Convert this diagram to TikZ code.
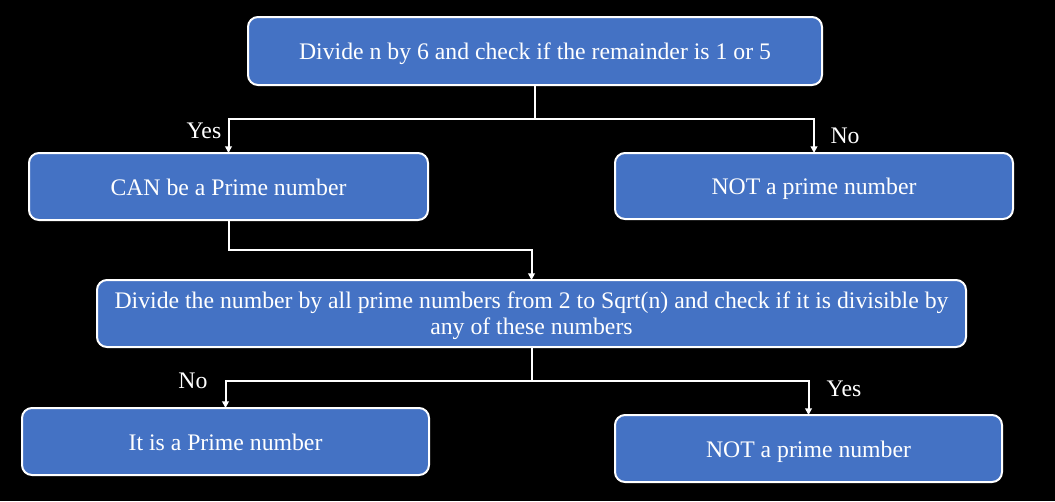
\documentclass[tikz,border=0pt]{standalone}
\usepackage{fontspec}
\setmainfont{Liberation Serif}
\usetikzlibrary{arrows.meta}
\definecolor{boxblue}{HTML}{4472C4}
\begin{document}
\begin{tikzpicture}[x=0.75pt,y=-0.75pt,
  boxbase/.style={draw=white, line width=1.5pt, fill=boxblue, rounded corners=7.5pt,
    text=white, font=\fontsize{17.8}{19.5}\selectfont, inner sep=0pt, outer sep=0pt, align=center},
  box/.style={boxbase, text height=15.5pt, text depth=2.75pt},
  conn/.style={draw=white, line width=1.5pt},
  arr/.style={conn, -{Triangle[length=5pt,width=5pt]}},
  lab/.style={text=white, font=\fontsize{17.8}{20}\selectfont, inner sep=0pt}]
\useasboundingbox[fill=black] (0,0) rectangle (1055,501);
\node[box, minimum width=574*0.75pt, minimum height=68*0.75pt] (b1) at (535,51)
  {Divide n by 6 and check if the remainder is 1 or 5};
\node[box, minimum width=399*0.75pt, minimum height=67*0.75pt] (b2) at (228.5,186.5)
  {CAN be a Prime number};
\node[box, minimum width=398*0.75pt, minimum height=66*0.75pt] (b3) at (814,186)
  {NOT a prime number};
\node[boxbase, minimum width=869*0.75pt, minimum height=67*0.75pt] (b4) at (531.5,313.5)
  {\rule{0pt}{16.5pt}Divide the number by all prime numbers from 2 to Sqrt(n) and check if it is divisible by\\any of these numbers};
\node[box, minimum width=407*0.75pt, minimum height=67*0.75pt] (b5) at (225.5,441.5)
  {It is a Prime number};
\node[box, minimum width=387*0.75pt, minimum height=67*0.75pt] (b6) at (808.5,448.5)
  {NOT a prime number};
\coordinate (j1) at (535,119);
\coordinate (j2) at (531.5,381);
\draw[conn] (b1.south) -- (j1);
\draw[arr] (j1) -| (b2.north);
\draw[arr] (j1) -| (b3.north);
\draw[arr] (b2.south) -- ++(0,30) -| (b4.north);
\draw[conn] (b4.south) -- (j2);
\draw[arr] (j2) -| (b5.north);
\draw[arr] (j2) -| (b6.north);
\node[lab] (l1) at (204,131) {Yes};
\node[lab] (l2) at (845,136) {No};
\node[lab] (l3) at (193,381) {No};
\node[lab] (l4) at (844,389) {Yes};
\end{tikzpicture}
\end{document}
